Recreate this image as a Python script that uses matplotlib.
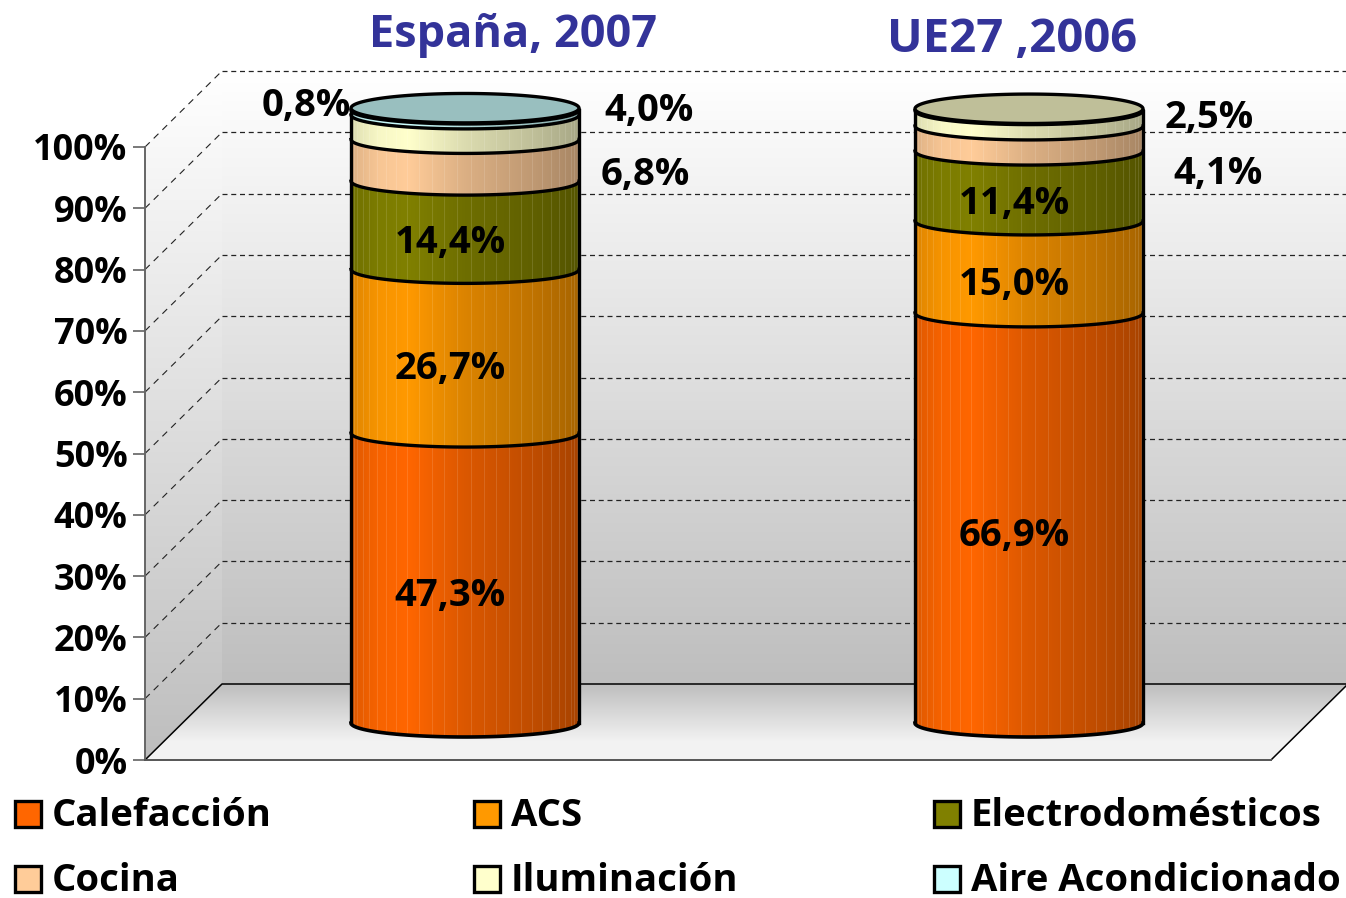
import matplotlib
matplotlib.use("Agg")
import matplotlib.pyplot as plt
import numpy as np
from matplotlib.colors import to_rgb
from matplotlib.patches import Rectangle
from matplotlib.path import Path

plt.rcParams['font.family'] = ['Open Sans', 'DejaVu Sans']
plt.rcParams['font.weight'] = 'bold'

# datos
paises = ["España, 2007", "UE27 ,2006"]
usos = ["Calefacción", "ACS", "Electrodomésticos", "Cocina", "Iluminación", "Aire Acondicionado"]
colores = ["#FF6600", "#FF9900", "#808000", "#FFCC99", "#FFFFCC", "#CCFFFF"]
espana = [47.3, 26.7, 14.4, 6.8, 4.0, 0.8]
ue27 = [66.9, 15.0, 11.4, 4.1, 2.5, 0.0]
ticks = [0, 10, 20, 30, 40, 50, 60, 70, 80, 90, 100]

W, H = 1346, 898
fig = plt.figure(figsize=(W / 100, H / 100), dpi=100)
ax = fig.add_axes([145 / W, 1 - 760 / H, (1271 - 145) / W, (760 - 147) / H])
ax.set_xlim((145 - 465) / 564, (1271 - 465) / 564)
ax.set_ylim(0, 100)
ax.patch.set_alpha(0)
for s in ax.spines.values():
    s.set_visible(False)

ux = 564.0    # px por categoria
uy = 6.13     # px por 1%
fx = 77 / ux  # fondo
fy = 76 / uy
x0, x1 = ax.get_xlim()


def txt_px(x, y, s, **kw):
    return fig.text(x / W, 1 - y / H, s, **kw)


def gradiente(datos, extent, verts, z):
    im = ax.imshow(datos, extent=extent, aspect='auto', origin='lower', zorder=z, interpolation='bilinear')
    im.set_clip_path(Path(verts), ax.transData)
    im.set_clip_box(fig.bbox)
    return im


def vertical(c_abajo, c_arriba):
    t = np.linspace(0, 1, 128)[:, None, None]
    return (1 - t) * np.array(c_abajo)[None, None, :] + t * np.array(c_arriba)[None, None, :]


# paredes y suelo
gris = to_rgb("#BEBEBE")
blanco = (1, 1, 1)
gradiente(vertical(gris, blanco), [x0, x1 + fx, fy, 100 + fy],
          [(x0 + fx, fy), (x1 + fx, fy), (x1 + fx, 100 + fy), (x0 + fx, 100 + fy)], 1)
gradiente(vertical(gris, blanco), [x0, x0 + fx, 0, 100 + fy],
          [(x0, 0), (x0 + fx, fy), (x0 + fx, 100 + fy), (x0, 100)], 1)
suelo = np.concatenate([np.ones((20, 1, 3)) * 0.95, vertical((0.95, 0.95, 0.95), gris)[::2]])
gradiente(suelo, [x0, x1 + fx, 0, fy], [(x0, 0), (x0 + fx, fy), (x1 + fx, fy), (x1, 0)], 1)

# rejilla
for t in ticks[1:]:
    ax.plot([x0 + fx, x1 + fx], [t + fy, t + fy], color="#222222", lw=0.9, ls=(0, (4, 3)), zorder=2, clip_on=False)
    ax.plot([x0, x0 + fx], [t, t + fy], color="#222222", lw=0.8, ls=(0, (6, 5)), zorder=2, clip_on=False)
ax.plot([x0, x0 + fx, x1 + fx, x1], [0, fy, fy, 0], color="black", lw=1.1, zorder=2, clip_on=False)
ax.plot([x0, x0], [0, 100], color="#666666", lw=1.4, zorder=2, clip_on=False)
ax.plot([x0, x1], [0, 0], color="#555555", lw=1.4, zorder=2, clip_on=False)

ax.set_xticks([])
ax.set_yticks(ticks)
ax.set_yticklabels(["%d%%" % t for t in ticks], fontsize=26, fontweight='bold')
ax.tick_params(axis='y', length=8.6, width=1.1, color="#555555", pad=4)

# cilindros
r = 114 / ux
ry = 14 / uy
my = 37 / uy

n = 228
u = np.linspace(0, 1, n)
brillo = np.interp(u, [0, 0.03, 0.12, 0.25, 0.5, 0.8, 1], [0.84, 0.9, 0.97, 1.0, 0.86, 0.75, 0.66])
costuras = ((1 - np.cos(np.linspace(0.12, np.pi - 0.12, 26))) / 2 * (n - 1)).astype(int)


def lado(color):
    fila = brillo[:, None] * np.array(to_rgb(color))
    fila[costuras] = fila[costuras] * 0.88 + 0.12
    return fila[None, :, :]


tt = np.linspace(0, np.pi, 80)
for c, valores in enumerate([espana, ue27]):
    acum = 0.0
    xs = c - r * np.cos(tt)
    frente = np.sin(tt) * ry
    ultimo = colores[0]
    for v, col in zip(valores, colores):
        if v <= 0:
            continue
        a, b = acum + my, acum + v + my
        verts = list(zip(xs, a - frente)) + list(zip(xs[::-1], b - frente[::-1]))
        gradiente(lado(col), [c - r, c + r, a - 2 * ry, b + 2 * ry], verts, 3 + acum / 1000)
        ax.plot(xs, b - frente, color="black", lw=2.4, zorder=4, clip_on=False)
        acum += v
        ultimo = col
    # base y bordes
    ax.plot(xs, my - frente, color="black", lw=2.6, zorder=4, clip_on=False)
    ax.plot([c - r, c - r], [my, acum + my], color="black", lw=2.4, zorder=4, clip_on=False)
    ax.plot([c + r, c + r], [my, acum + my], color="black", lw=2.4, zorder=4, clip_on=False)
    # tapa
    tt2 = np.linspace(0, 2 * np.pi, 160)
    tapa = np.array(to_rgb(ultimo)) * 0.75
    ax.fill(c + r * np.cos(tt2), acum + my + 0.3 + ry * 1.05 * np.sin(tt2), facecolor=tapa, edgecolor="black", lw=2.4, zorder=5, clip_on=False)
    # etiquetas dentro
    acum = 0.0
    for v in valores[:3]:
        ax.annotate(("%.1f%%" % v).replace(".", ","), (c, acum + v / 2 + my), xytext=(-15 * 0.72, -18 * 0.72),
                    textcoords='offset points', ha='center', va='center', fontsize=27.5, fontweight='bold', color="black", zorder=6)
        acum += v

# etiquetas fuera
fuera = [(306, 106, "0,8%"), (649, 111, "4,0%"), (645, 175, "6,8%"), (1209, 118, "2,5%"), (1218, 174, "4,1%")]
for fx_, fy_, s in fuera:
    txt_px(fx_, fy_, s, fontsize=27.5, fontweight='bold', ha='center', va='center')

# titulos
txt_px(513, 35, paises[0], fontsize=32.5, fontweight='bold', color="#333399", ha='center', va='center')
txt_px(1012, 40, paises[1], fontsize=34, fontweight='bold', color="#333399", ha='center', va='center')

# leyenda
col_x = [15, 474, 934]
fila_y = [800, 865]
for k, (nombre, col) in enumerate(zip(usos, colores)):
    lx = col_x[k % 3]
    ly = fila_y[k // 3]
    fig.add_artist(Rectangle((lx / W, 1 - (ly + 27) / H), 26 / W, 26 / H, transform=fig.transFigure,
                             facecolor=col, edgecolor="black", lw=2.4))
    txt_px(lx + 37, ly + 26, nombre, fontsize=27.5, fontweight='bold', ha='left', va='baseline')

fig.savefig("out.png", dpi=100)
